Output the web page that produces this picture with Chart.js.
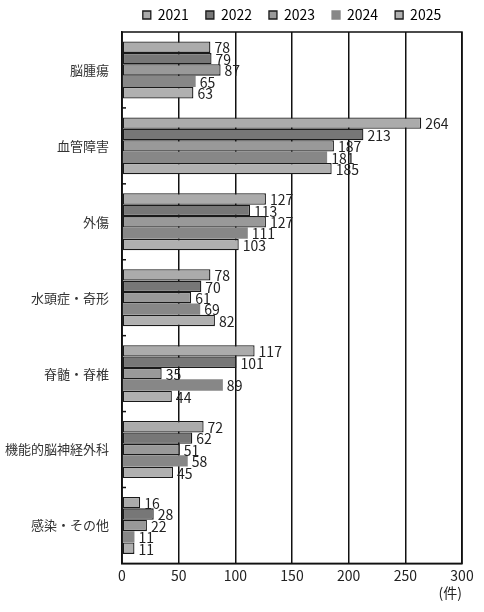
<!DOCTYPE html>
<html lang="ja">
<head>
<meta charset="UTF-8" />
<title>疾患別件数</title>
<script src="https://cdn.jsdelivr.net/npm/chart.js"></script>
<style>
  html, body { margin: 0; padding: 0; background: #fff; }
  #wrap { width: 484px; height: 612px; }
</style>
</head>
<body>
<div id="wrap"><canvas id="chart" width="484" height="612"></canvas></div>
<script>
const categories = ["脳腫瘍", "血管障害", "外傷", "水頭症・奇形", "脊髄・脊椎", "機能的脳神経外科", "感染・その他"];
const years = ["2021", "2022", "2023", "2024", "2025"];
const v2021 = [78, 264, 127, 78, 117, 72, 16];
const v2022 = [79, 213, 113, 70, 101, 62, 28];
const v2023 = [87, 187, 127, 61, 35, 51, 22];
const v2024 = [65, 181, 111, 69, 89, 58, 11];
const v2025 = [63, 185, 103, 82, 44, 45, 11];
const xTicks = [0, 50, 100, 150, 200, 250, 300];

const fills = ["#ababab", "#777777", "#999999", "#878787", "#b0b0b0"];
const borders = [1.3, 1.3, 1.3, 0, 1.3];
const FONT = "'Noto Sans CJK JP', 'Noto Sans', sans-serif";

const series = [v2021, v2022, v2023, v2024, v2025];

// 値ラベル、枠、左側の目盛り
const extras = {
  id: "extras",
  afterDatasetsDraw(chart) {
    const ctx = chart.ctx;
    ctx.save();
    ctx.font = "14px " + FONT;
    ctx.fillStyle = "#222";
    ctx.textBaseline = "middle";
    ctx.textAlign = "left";
    chart.data.datasets.forEach((ds, i) => {
      chart.getDatasetMeta(i).data.forEach((bar, j) => {
        ctx.fillText(String(ds.data[j]), bar.x + 4, bar.y + 1);
      });
    });
    const a = chart.chartArea;
    ctx.strokeStyle = "#111";
    ctx.lineWidth = 1.5;
    ctx.strokeRect(a.left, a.top, a.right - a.left, a.bottom - a.top);
    const y = chart.scales.y;
    for (let k = 1; k < categories.length; k++) {
      const py = (y.getPixelForValue(k - 1) + y.getPixelForValue(k)) / 2;
      ctx.beginPath();
      ctx.moveTo(a.left, py);
      ctx.lineTo(a.left + 4, py);
      ctx.stroke();
    }
    ctx.restore();
  }
};

new Chart(document.getElementById("chart"), {
  type: "bar",
  data: {
    labels: categories,
    datasets: years.map((yr, i) => ({
      label: yr,
      data: series[i],
      backgroundColor: fills[i],
      borderColor: "#1a1a1a",
      borderWidth: borders[i],
      borderSkipped: false,
      categoryPercentage: 0.75,
      barPercentage: 1.0
    }))
  },
  options: {
    indexAxis: "y",
    responsive: false,
    animation: false,
    devicePixelRatio: 1,
    layout: { padding: { left: 0, right: 22, top: -9, bottom: 3 } },
    plugins: {
      legend: {
        position: "top",
        fullSize: false,
        maxHeight: 41,
        labels: {
          font: { family: FONT, size: 14 },
          color: "#222",
          boxWidth: 8,
          boxHeight: 8,
          padding: 17,
          generateLabels(chart) {
            return chart.data.datasets.map((ds, i) => ({
              text: ds.label,
              fillStyle: ds.backgroundColor,
              strokeStyle: i === 3 ? ds.backgroundColor : "#1a1a1a",
              lineWidth: 1.3,
              datasetIndex: i
            }));
          }
        }
      },
      tooltip: { enabled: false }
    },
    scales: {
      x: {
        min: 0,
        max: 300,
        afterBuildTicks(scale) { scale.ticks = xTicks.map(v => ({ value: v })); },
        grid: { color: "#111", lineWidth: 1.5, drawTicks: false },
        border: { color: "#111", width: 1.5 },
        ticks: { font: { family: FONT, size: 14 }, color: "#222", padding: 4 },
        title: {
          display: true,
          text: "(件)",
          align: "end",
          font: { family: FONT, size: 14 },
          color: "#222",
          padding: { top: -4, bottom: 8 }
        }
      },
      y: {
        afterFit(scale) { scale.width = 122; },
        grid: { display: false },
        border: { color: "#111", width: 1.5 },
        ticks: { font: { family: FONT, size: 13 }, color: "#333", padding: 5 }
      }
    }
  },
  plugins: [extras]
});
</script>
</body>
</html>
